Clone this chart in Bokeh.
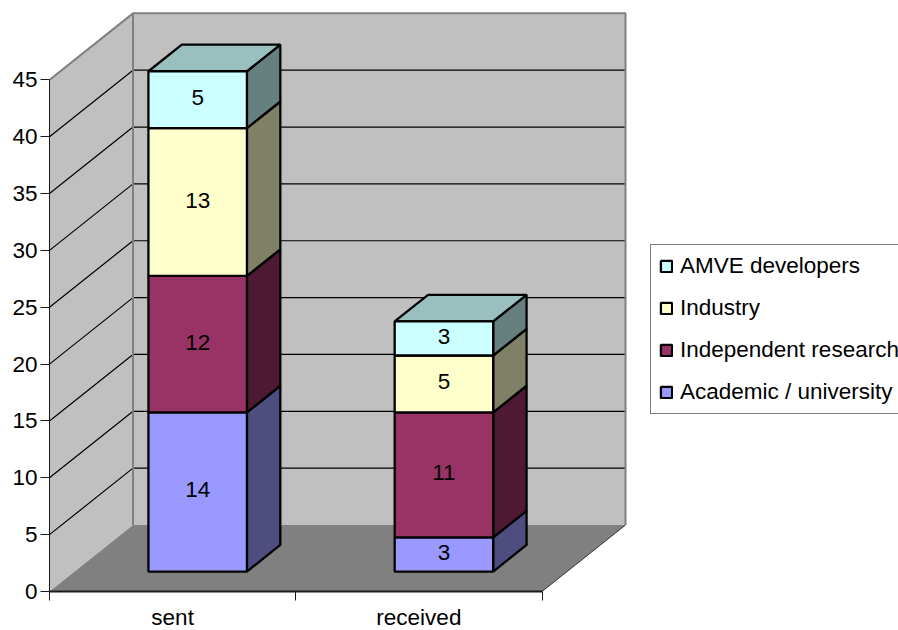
from bokeh.plotting import figure
from bokeh.models import (ColumnDataSource, FixedTicker, Legend, LegendItem, LinearAxis, Range1d)
from bokeh.core.properties import value
from bokeh.embed import file_html
from bokeh.resources import INLINE

categories = ["sent", "received"]
series_names = ["Academic / university", "Independent research", "Industry", "AMVE developers"]
series_values = [
    [14, 3],
    [12, 11],
    [13, 5],
    [5, 3],
]
front_colors = ["#9999FF", "#993366", "#FFFFCC", "#CCFFFF"]
side_colors = ["#4D4D80", "#4D1933", "#808066", "#668080"]
top_colors = ["#7373BF", "#732640", "#BFBF99", "#99BFBF"]
y_ticks = [0, 5, 10, 15, 20, 25, 30, 35, 40, 45]
y_max = 45

FONT = "Liberation Sans"
FONT_SIZE = "22.5px"
W, H = 898, 630
LEFT, BOTTOM = 49, 39
UNIT_X = 246.25      # pixels per category
UNIT_Y = 11.37       # pixels per value unit
DEPTH_X = 83.5 / UNIT_X    # full floor depth, category units
DEPTH_Y = 66.5 / UNIT_Y    # full floor depth, value units
BAR_START, BAR_END = 0.3, 0.7  # along the category and along the depth
BOX_LINE = 2.3


def proj(u, v, d):
    """Oblique projection of (category, value, depth) onto the plot plane."""
    return u + d * DEPTH_X, v + d * DEPTH_Y


p = figure(width=W, height=H, frame_width=W - LEFT, frame_height=H - BOTTOM,
           output_backend="svg", toolbar_location=None,
           x_axis_type=None, y_axis_type=None,
           x_range=Range1d(0, (W - LEFT) / UNIT_X),
           y_range=Range1d(0, (H - BOTTOM) / UNIT_Y),
           min_border_left=LEFT, min_border_bottom=BOTTOM, min_border_top=0, min_border_right=0)
p.grid.visible = False
p.outline_line_color = None
p.background_fill_color = "white"

n_cat = len(categories)
wall = "#C0C0C0"
edge = "#808080"

# side wall, back wall and floor
sx, sy = zip(*[proj(0, 0, 0), proj(0, 0, 1), proj(0, y_max, 1), proj(0, y_max, 0)])
p.patch(sx, sy, fill_color=wall, line_color=None)
bx, by = zip(*[proj(0, 0, 1), proj(n_cat, 0, 1), proj(n_cat, y_max, 1), proj(0, y_max, 1)])
p.patch(bx, by, fill_color=wall, line_color=None)

# gridlines across both walls
for t in y_ticks[1:-1]:
    gx, gy = zip(*[proj(0, t, 0), proj(0, t, 1), proj(n_cat, t, 1)])
    p.line(gx, gy, line_color="black", line_width=1.2)

# wall outlines
ox, oy = zip(*[proj(0, y_max, 0), proj(0, y_max, 1), proj(n_cat, y_max, 1), proj(n_cat, 0, 1)])
p.line(ox, oy, line_color=edge, line_width=2)
ox, oy = zip(*[proj(0, 0, 1), proj(0, y_max, 1)])
p.line(ox, oy, line_color=edge, line_width=2)

fx, fy = zip(*[proj(0, 0, 0), proj(n_cat, 0, 0), proj(n_cat, 0, 1), proj(0, 0, 1)])
p.patch(fx, fy, fill_color=edge, line_color=None)
ex, ey = zip(*[proj(n_cat, 0, 0), proj(n_cat, 0, 1)])
p.line(ex, ey, line_color="#333333", line_width=1)

# stacked boxes: side and top faces first, then the front faces
renderers = []
for c in range(n_cat):
    base = 0
    for s, vals in enumerate(series_values):
        top = base + vals[c]
        u1 = c + BAR_END
        sxs, sys = zip(*[proj(u1, base, BAR_START), proj(u1, base, BAR_END),
                         proj(u1, top, BAR_END), proj(u1, top, BAR_START)])
        p.patch(sxs, sys, fill_color=side_colors[s], line_color="black", line_width=BOX_LINE)
        base = top
    txs, tys = zip(*[proj(c + BAR_START, base, BAR_START), proj(c + BAR_END, base, BAR_START),
                     proj(c + BAR_END, base, BAR_END), proj(c + BAR_START, base, BAR_END)])
    p.patch(txs, tys, fill_color=top_colors[-1], line_color="black", line_width=BOX_LINE)

bottoms = [0] * n_cat
for s, vals in enumerate(series_values):
    tops = [b + v for b, v in zip(bottoms, vals)]
    left, ly0 = zip(*[proj(c + BAR_START, b, BAR_START) for c, b in enumerate(bottoms)])
    right, _ = zip(*[proj(c + BAR_END, b, BAR_START) for c, b in enumerate(bottoms)])
    _, ly1 = zip(*[proj(c + BAR_START, t, BAR_START) for c, t in enumerate(tops)])
    src = ColumnDataSource(dict(
        left=left, right=right, bottom=ly0, top=ly1,
        xc=[(a + b) / 2 for a, b in zip(left, right)],
        yc=[(a + b) / 2 for a, b in zip(ly0, ly1)],
        label=[str(v) for v in vals]))
    r = p.quad(left="left", right="right", bottom="bottom", top="top", source=src,
               fill_color=front_colors[s], line_color="black", line_width=BOX_LINE)
    p.text(x="xc", y="yc", text="label", source=src, text_align="center", text_baseline="middle",
           y_offset=-2, text_font=value(FONT), text_font_size=FONT_SIZE, text_color="black")
    renderers.append(r)
    bottoms = tops

# axes on the front edges of the box
y_axis = LinearAxis(ticker=FixedTicker(ticks=y_ticks), bounds=(0, y_max))
y_axis.major_label_text_font = FONT
y_axis.major_label_text_font_size = FONT_SIZE
y_axis.major_label_text_color = "black"
y_axis.major_tick_in = 0
y_axis.major_tick_out = 9
y_axis.major_label_standoff = 3
y_axis.axis_line_color = "#1a1a1a"
y_axis.major_tick_line_color = "#1a1a1a"
p.add_layout(y_axis, "left")

x_axis = LinearAxis(ticker=FixedTicker(ticks=[i + 0.5 for i in range(n_cat)],
                                       minor_ticks=list(range(n_cat + 1))),
                    bounds=(0, n_cat))
x_axis.major_label_overrides = {i + 0.5: name for i, name in enumerate(categories)}
x_axis.major_label_text_font = FONT
x_axis.major_label_text_font_size = FONT_SIZE
x_axis.major_label_text_color = "black"
x_axis.major_tick_line_color = None
x_axis.major_tick_in = 0
x_axis.major_tick_out = 0
x_axis.minor_tick_in = 0
x_axis.minor_tick_out = 9
x_axis.minor_tick_line_color = "#1a1a1a"
x_axis.axis_line_color = "#1a1a1a"
x_axis.axis_line_width = 2
x_axis.major_label_standoff = 4
p.add_layout(x_axis, "below")

# legend, newest series on top
items = [LegendItem(label=series_names[s], renderers=[renderers[s]]) for s in reversed(range(len(series_names)))]
legend = Legend(items=items, location=(601, 177), orientation="vertical",
                label_text_font=FONT, label_text_font_size=FONT_SIZE, label_text_color="black",
                glyph_width=14, glyph_height=14, label_standoff=7, spacing=16,
                padding=8, margin=0, border_line_color="black", border_line_width=1,
                background_fill_color="white", background_fill_alpha=1, label_height=24)
p.add_layout(legend)

open("out.html", "w").write(file_html(p, INLINE))
